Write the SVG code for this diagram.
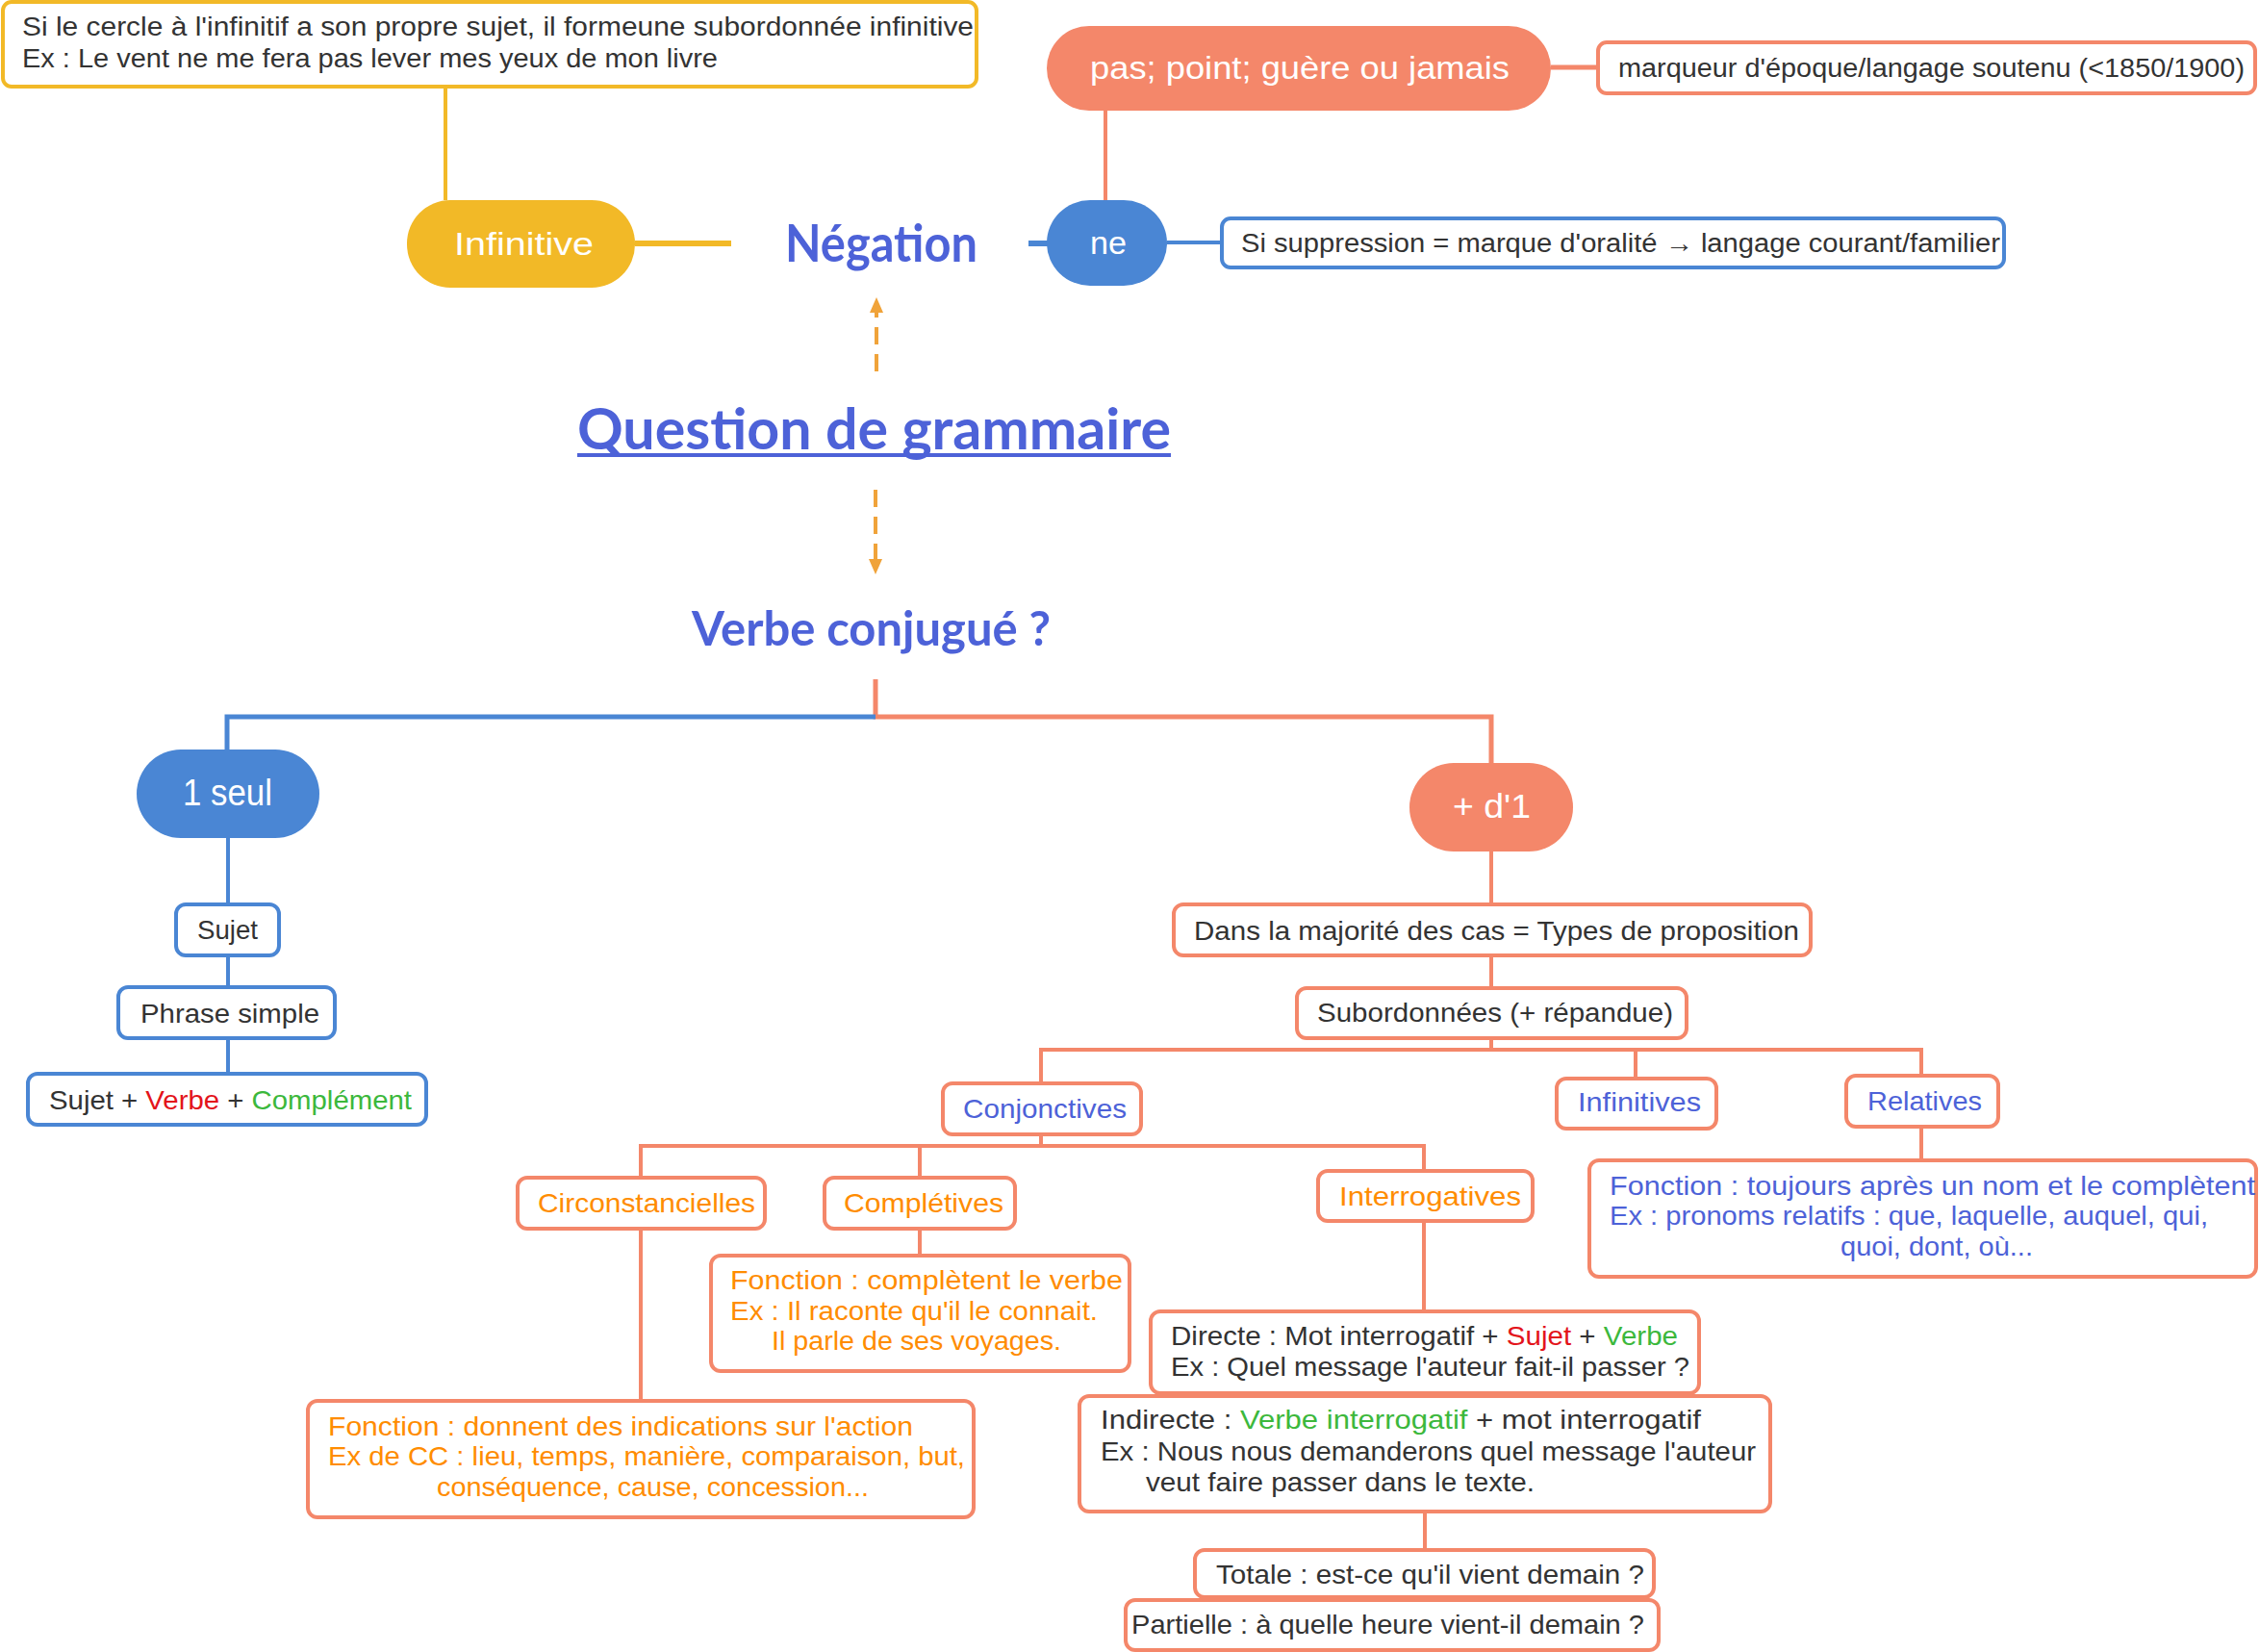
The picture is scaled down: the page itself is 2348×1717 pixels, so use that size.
<svg xmlns="http://www.w3.org/2000/svg" width="2348" height="1717" viewBox="0 0 2348 1717">
<defs>
<style>
text{font-family:"Liberation Sans","Noto Sans",sans-serif;font-size:27px;fill:#333333}
.w{fill:#ffffff;font-size:34px}
.b{fill:#4D62D8}
.o{fill:#FF8C00}
.r{fill:#E3141B}
.g{fill:#3CB83C}
.h{font-family:"Lato","Liberation Sans",sans-serif;font-weight:bold;fill:#4D62D8}
.bo{fill:#ffffff;stroke:#F4876A;stroke-width:4}
.bb{fill:#ffffff;stroke:#4A86D4;stroke-width:4}
.by{fill:#ffffff;stroke:#F2B927;stroke-width:4}
.lo{fill:none;stroke:#F4876A;stroke-width:4}
.lb{fill:none;stroke:#4A86D4;stroke-width:4}
.ly{fill:none;stroke:#F2B927;stroke-width:4}
.da{fill:none;stroke:#F0A33A;stroke-width:4;stroke-dasharray:18 10}
</style>
<marker id="ah" viewBox="0 0 16 16" refX="1" refY="8" markerWidth="16" markerHeight="16" markerUnits="userSpaceOnUse" orient="auto">
<path d="M0 1 L16 8 L0 15 Z" fill="#F0A33A"/>
</marker>
</defs>
<rect width="2348" height="1717" fill="#ffffff"/>

<g id="connectors">
<path class="ly" d="M463 90 V208"/>
<path class="ly" style="stroke-width:6" d="M660 253 H760"/>
<path class="lo" d="M1149 115 V208"/>
<path class="lo" style="stroke-width:5" d="M1612 70 H1661"/>
<path class="lb" style="stroke-width:6" d="M1069 253 H1090"/>
<path class="lb" d="M1213 252 H1270"/>
<path class="da" d="M911 386 V324" marker-end="url(#ah)"/>
<path class="da" d="M910 509 V582" marker-end="url(#ah)"/>
<path class="lo" style="stroke-width:5" d="M910 706 V745 H1550 V793"/>
<path class="lb" style="stroke-width:5" d="M910 745 H236 V779"/>
<path class="lb" d="M237 871 V940 M237 993 V1026 M237 1079 V1116"/>
<path class="lo" d="M1550 885 V940 M1550 993 V1027 M1550 1079 V1091"/>
<path class="lo" d="M1082 1126 V1091 H1997 V1118 M1700 1091 V1121 M1997 1171 V1206"/>
<path class="lo" d="M1082 1179 V1191 M666 1224 V1191 H1480 V1217 M956 1191 V1224"/>
<path class="lo" d="M956 1277 V1305 M666 1277 V1456 M1480 1269 V1363 M1481 1571 V1611"/>
</g>

<g id="n-infinitive-note">
<rect class="by" x="3" y="2" width="1012" height="88" rx="9"/>
<text lengthAdjust="spacingAndGlyphs" x="23" y="37" textLength="989">Si le cercle à l'infinitif a son propre sujet, il formeune subordonnée infinitive</text>
<text lengthAdjust="spacingAndGlyphs" x="23" y="70" textLength="723">Ex : Le vent ne me fera pas lever mes yeux de mon livre</text>
</g>
<g id="n-pas">
<rect x="1088" y="27" width="524" height="88" rx="44" fill="#F4876A"/>
<text lengthAdjust="spacingAndGlyphs" class="w" x="1133" y="82" textLength="436">pas; point; guère ou jamais</text>
</g>
<g id="n-marqueur">
<rect class="bo" x="1661" y="44" width="683" height="53" rx="9"/>
<text lengthAdjust="spacingAndGlyphs" x="1682" y="80" textLength="651">marqueur d'époque/langage soutenu (&lt;1850/1900)</text>
</g>
<g id="n-ne">
<rect x="1088" y="208" width="125" height="89" rx="45" fill="#4A86D4"/>
<text lengthAdjust="spacingAndGlyphs" class="w" x="1133" y="264" textLength="38">ne</text>
</g>
<g id="n-suppression">
<rect class="bb" x="1270" y="227" width="813" height="51" rx="9"/>
<text lengthAdjust="spacingAndGlyphs" x="1290" y="262" textLength="789">Si suppression = marque d'oralité → langage courant/familier</text>
</g>
<g id="n-infinitive">
<rect x="423" y="208" width="237" height="91" rx="45" fill="#F2B927"/>
<text lengthAdjust="spacingAndGlyphs" class="w" x="472" y="265" textLength="145">Infinitive</text>
</g>
<g id="n-negation">
<text lengthAdjust="spacingAndGlyphs" class="h" x="816" y="272" style="font-size:54px" textLength="200">Négation</text>
</g>
<g id="n-question">
<text lengthAdjust="spacingAndGlyphs" class="h" x="600" y="467" style="font-size:60px" textLength="617">Question de grammaire</text>
<rect x="600" y="471" width="617" height="4" fill="#4D62D8"/>
</g>
<g id="n-verbe">
<text lengthAdjust="spacingAndGlyphs" class="h" x="719" y="671" style="font-size:50px" textLength="373">Verbe conjugué ?</text>
</g>

<g id="n-1seul">
<rect x="142" y="779" width="190" height="92" rx="46" fill="#4A86D4"/>
<text lengthAdjust="spacingAndGlyphs" class="w" x="190" y="837" style="font-size:38px" textLength="93">1 seul</text>
</g>
<g id="n-sujet">
<rect class="bb" x="183" y="940" width="107" height="53" rx="10"/>
<text lengthAdjust="spacingAndGlyphs" x="205" y="976" style="font-size:28px" textLength="63">Sujet</text>
</g>
<g id="n-phrase">
<rect class="bb" x="123" y="1026" width="225" height="53" rx="10"/>
<text lengthAdjust="spacingAndGlyphs" x="146" y="1063" style="font-size:28px" textLength="186">Phrase simple</text>
</g>
<g id="n-svc">
<rect class="bb" x="29" y="1116" width="414" height="53" rx="10"/>
<text lengthAdjust="spacingAndGlyphs" x="51" y="1153" style="font-size:28px" textLength="377">Sujet + <tspan class="r">Verbe</tspan> + <tspan class="g">Complément</tspan></text>
</g>

<g id="n-plusd1">
<rect x="1465" y="793" width="170" height="92" rx="46" fill="#F4876A"/>
<text lengthAdjust="spacingAndGlyphs" class="w" x="1510" y="850" style="font-size:35px" textLength="81">+ d'1</text>
</g>
<g id="n-dans">
<rect class="bo" x="1220" y="940" width="662" height="53" rx="10"/>
<text lengthAdjust="spacingAndGlyphs" x="1241" y="977" style="font-size:28px" textLength="629">Dans la majorité des cas = Types de proposition</text>
</g>
<g id="n-subordonnees">
<rect class="bo" x="1348" y="1027" width="405" height="52" rx="10"/>
<text lengthAdjust="spacingAndGlyphs" x="1369" y="1062" style="font-size:28px" textLength="370">Subordonnées (+ répandue)</text>
</g>
<g id="n-conjonctives">
<rect class="bo" x="980" y="1126" width="206" height="53" rx="10"/>
<text lengthAdjust="spacingAndGlyphs" class="b" x="1001" y="1162" style="font-size:28px" textLength="170">Conjonctives</text>
</g>
<g id="n-infinitives">
<rect class="bo" x="1618" y="1121" width="166" height="52" rx="10"/>
<text lengthAdjust="spacingAndGlyphs" class="b" x="1640" y="1155" style="font-size:28px" textLength="128">Infinitives</text>
</g>
<g id="n-relatives">
<rect class="bo" x="1919" y="1118" width="158" height="53" rx="10"/>
<text lengthAdjust="spacingAndGlyphs" class="b" x="1941" y="1154" style="font-size:28px" textLength="119">Relatives</text>
</g>
<g id="n-relatives-note">
<rect class="bo" x="1652" y="1206" width="693" height="121" rx="10"/>
<text lengthAdjust="spacingAndGlyphs" class="b" x="1673" y="1242" style="font-size:28px" textLength="671">Fonction : toujours après un nom et le complètent</text>
<text lengthAdjust="spacingAndGlyphs" class="b" x="1673" y="1273" style="font-size:28px" textLength="622">Ex : pronoms relatifs : que, laquelle, auquel, qui,</text>
<text lengthAdjust="spacingAndGlyphs" class="b" x="1913" y="1305" style="font-size:28px" textLength="200">quoi, dont, où...</text>
</g>
<g id="n-circonstancielles">
<rect class="bo" x="538" y="1224" width="257" height="53" rx="10"/>
<text lengthAdjust="spacingAndGlyphs" class="o" x="559" y="1260" style="font-size:28px" textLength="226">Circonstancielles</text>
</g>
<g id="n-completives">
<rect class="bo" x="857" y="1224" width="198" height="53" rx="10"/>
<text lengthAdjust="spacingAndGlyphs" class="o" x="877" y="1260" style="font-size:28px" textLength="166">Complétives</text>
</g>
<g id="n-interrogatives">
<rect class="bo" x="1370" y="1217" width="223" height="52" rx="10"/>
<text lengthAdjust="spacingAndGlyphs" class="o" x="1392" y="1253" style="font-size:28px" textLength="189">Interrogatives</text>
</g>
<g id="n-completives-note">
<rect class="bo" x="739" y="1305" width="435" height="120" rx="10"/>
<text lengthAdjust="spacingAndGlyphs" class="o" x="759" y="1340" style="font-size:28px" textLength="408">Fonction : complètent le verbe</text>
<text lengthAdjust="spacingAndGlyphs" class="o" x="759" y="1372" style="font-size:28px" textLength="382">Ex : Il raconte qu'il le connait.</text>
<text lengthAdjust="spacingAndGlyphs" class="o" x="802" y="1403" style="font-size:28px" textLength="301">Il parle de ses voyages.</text>
</g>
<g id="n-cc-note">
<rect class="bo" x="320" y="1456" width="692" height="121" rx="10"/>
<text lengthAdjust="spacingAndGlyphs" class="o" x="341" y="1492" style="font-size:28px" textLength="608">Fonction : donnent des indications sur l'action</text>
<text lengthAdjust="spacingAndGlyphs" class="o" x="341" y="1523" style="font-size:28px" textLength="662">Ex de CC : lieu, temps, manière, comparaison, but,</text>
<text lengthAdjust="spacingAndGlyphs" class="o" x="454" y="1555" style="font-size:28px" textLength="449">conséquence, cause, concession...</text>
</g>
<g id="n-directe">
<rect class="bo" x="1196" y="1363" width="570" height="85" rx="10"/>
<text lengthAdjust="spacingAndGlyphs" x="1217" y="1398" style="font-size:28px" textLength="527">Directe : Mot interrogatif + <tspan class="r">Sujet</tspan> + <tspan class="g">Verbe</tspan></text>
<text lengthAdjust="spacingAndGlyphs" x="1217" y="1430" style="font-size:28px" textLength="539">Ex : Quel message l'auteur fait-il passer ?</text>
</g>
<g id="n-indirecte">
<rect class="bo" x="1122" y="1451" width="718" height="120" rx="10"/>
<text lengthAdjust="spacingAndGlyphs" x="1144" y="1485" style="font-size:28px" textLength="624">Indirecte : <tspan class="g">Verbe interrogatif</tspan> + mot interrogatif</text>
<text lengthAdjust="spacingAndGlyphs" x="1144" y="1518" style="font-size:28px" textLength="681">Ex : Nous nous demanderons quel message l'auteur</text>
<text lengthAdjust="spacingAndGlyphs" x="1191" y="1550" style="font-size:28px" textLength="404">veut faire passer dans le texte.</text>
</g>
<g id="n-totale">
<rect class="bo" x="1242" y="1611" width="477" height="49" rx="10"/>
<text lengthAdjust="spacingAndGlyphs" x="1264" y="1646" style="font-size:28px" textLength="445">Totale : est-ce qu'il vient demain ?</text>
</g>
<g id="n-partielle">
<rect class="bo" x="1170" y="1663" width="554" height="52" rx="10"/>
<text lengthAdjust="spacingAndGlyphs" x="1176" y="1698" style="font-size:28px" textLength="533">Partielle : à quelle heure vient-il demain ?</text>
</g>
</svg>
